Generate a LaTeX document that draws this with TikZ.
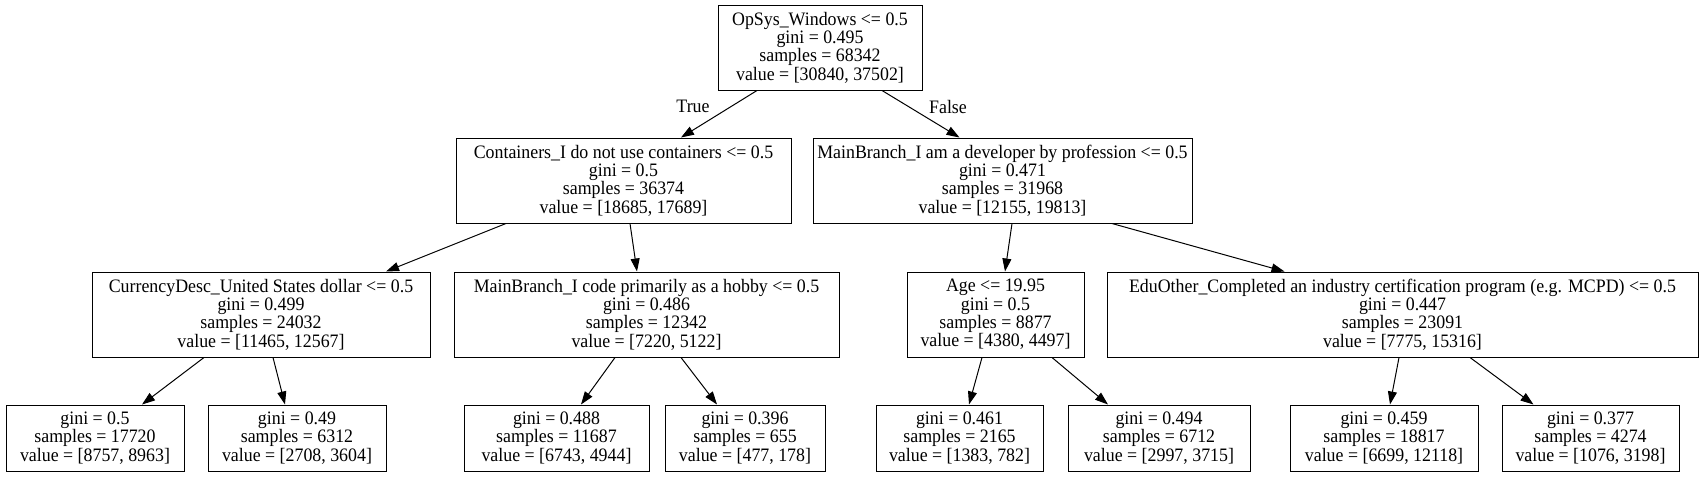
\documentclass[tikz,border=0pt]{standalone}
\usepackage{fontspec}
\setmainfont[FakeStretch=0.94]{Liberation Serif}
\usetikzlibrary{arrows.meta}
\begin{document}
\begin{tikzpicture}[x=1pt,y=-1pt,
  box/.style={draw, line width=1pt, align=center, inner xsep=1pt, inner ysep=0pt,
    font=\fontsize{19}{18.4}\selectfont},
  inner/.style={box, minimum height=85pt},
  leaf/.style={box, minimum height=66pt},
  arr/.style={line width=1pt, -{Triangle[length=13pt,width=9pt]}},
  lbl/.style={font=\fontsize{19}{18.4}\selectfont, inner sep=0pt}]
\useasboundingbox[fill=white] (0,0) rectangle (1704,477);
% level 0
\node[inner, minimum width=204pt] (root) at (820,47.5) {OpSys\_Windows <= 0.5\\gini = 0.495\\samples = 68342\\value = [30840, 37502]};
% level 1
\node[inner, minimum width=335pt] (c1) at (623.5,180.5) {Containers\_I do not use containers <= 0.5\\gini = 0.5\\samples = 36374\\value = [18685, 17689]};
\node[inner, minimum width=379pt] (c2) at (1002.5,180.5) {MainBranch\_I am a developer by profession <= 0.5\\gini = 0.471\\samples = 31968\\value = [12155, 19813]};
% level 2
\node[inner, minimum width=338pt] (d1) at (261,314.5) {CurrencyDesc\_United States dollar <= 0.5\\gini = 0.499\\samples = 24032\\value = [11465, 12567]};
\node[inner, minimum width=385pt] (d2) at (646.5,314.5) {MainBranch\_I code primarily as a hobby <= 0.5\\gini = 0.486\\samples = 12342\\value = [7220, 5122]};
\node[inner, minimum width=177pt] (d3) at (995.5,314.5) {Age <= 19.95\\gini = 0.5\\samples = 8877\\value = [4380, 4497]};
\node[inner, minimum width=591pt] (d4) at (1402.5,314.5) {EduOther\_Completed an industry certification program (e.g. MCPD) <= 0.5\\gini = 0.447\\samples = 23091\\value = [7775, 15316]};
% leaves
\node[leaf, minimum width=178pt] (l1) at (95,438) {gini = 0.5\\samples = 17720\\value = [8757, 8963]};
\node[leaf, minimum width=178pt] (l2) at (297,438) {gini = 0.49\\samples = 6312\\value = [2708, 3604]};
\node[leaf, minimum width=185pt] (l3) at (556.5,438) {gini = 0.488\\samples = 11687\\value = [6743, 4944]};
\node[leaf, minimum width=160pt] (l4) at (745,438) {gini = 0.396\\samples = 655\\value = [477, 178]};
\node[leaf, minimum width=167pt] (l5) at (959.5,438) {gini = 0.461\\samples = 2165\\value = [1383, 782]};
\node[leaf, minimum width=182pt] (l6) at (1159,438) {gini = 0.494\\samples = 6712\\value = [2997, 3715]};
\node[leaf, minimum width=188pt] (l7) at (1384,438) {gini = 0.459\\samples = 18817\\value = [6699, 12118]};
\node[leaf, minimum width=177pt] (l8) at (1590.5,438) {gini = 0.377\\samples = 4274\\value = [1076, 3198]};
% edges
\draw[arr] ([xshift=-63pt]root.south) -- ([xshift=57.5pt]c1.north);
\draw[arr] ([xshift=62pt]root.south) -- ([xshift=-43pt]c2.north);
\draw[arr] ([xshift=-117.5pt]c1.south) -- ([xshift=125pt]d1.north);
\draw[arr] ([xshift=6.5pt]c1.south) -- ([xshift=-9.5pt]d2.north);
\draw[arr] ([xshift=9.5pt]c2.south) -- ([xshift=9.5pt]d3.north);
\draw[arr] ([xshift=109.5pt]c2.south) -- ([xshift=-118pt]d4.north);
\draw[arr] ([xshift=-57pt]d1.south) -- ([xshift=47pt]l1.north);
\draw[arr] ([xshift=12pt]d1.south) -- ([xshift=-12pt]l2.north);
\draw[arr] ([xshift=-31.5pt]d2.south) -- ([xshift=24.5pt]l3.north);
\draw[arr] ([xshift=34.5pt]d2.south) -- ([xshift=-28pt]l4.north);
\draw[arr] ([xshift=-13.5pt]d3.south) -- ([xshift=9.5pt]l5.north);
\draw[arr] ([xshift=56.5pt]d3.south) -- ([xshift=-51pt]l6.north);
\draw[arr] ([xshift=-3.5pt]d4.south) -- ([xshift=6pt]l7.north);
\draw[arr] ([xshift=67.5pt]d4.south) -- ([xshift=-57pt]l8.north);
% edge labels
\node[lbl] (tl) at (693,106.5) {True};
\node[lbl] (fl) at (948,106.5) {False};
\end{tikzpicture}
\end{document}
